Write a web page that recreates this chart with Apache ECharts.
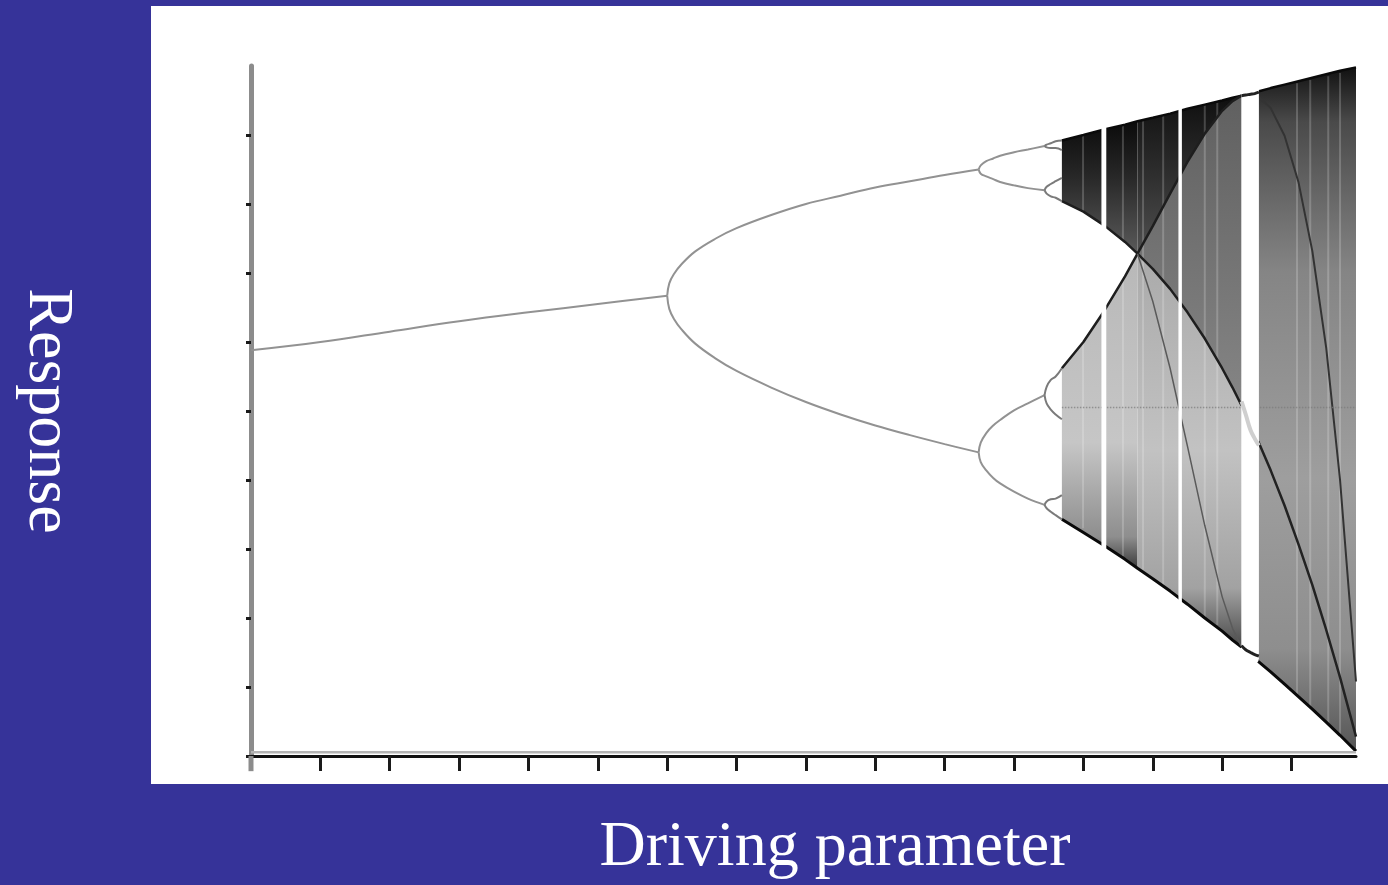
<!DOCTYPE html>
<html>
<head>
<meta charset="utf-8">
<title>Driving parameter / Response</title>
<script src="https://cdn.jsdelivr.net/npm/echarts@6/dist/echarts.min.js"></script>
<style>
html, body { margin: 0; padding: 0; background: #363399; }
#main { width: 1388px; height: 885px; }
</style>
</head>
<body>
<div id="main"></div>
<script>
// 刻度 (driving parameter r / response x)
var xTicks = [2.5, 2.6, 2.7, 2.8, 2.9, 3.0, 3.1, 3.2, 3.3, 3.4, 3.5, 3.6, 3.7, 3.8, 3.9];
var yTicks = [0, 0.1, 0.2, 0.3, 0.4, 0.5, 0.6, 0.7, 0.8, 0.9];

// period 1
var rFix = [2.4, 2.5, 2.6, 2.7, 2.8, 2.9, 3.0];
var fixResp = [0.588, 0.600, 0.615, 0.630, 0.643, 0.655, 0.667];

// period 2
var r2 = [3.0, 3.003, 3.01, 3.02, 3.04, 3.07, 3.1, 3.15, 3.2, 3.25, 3.3, 3.35, 3.4, 3.449];
var p2Up = [0.667, 0.685, 0.699, 0.712, 0.731, 0.750, 0.765, 0.784, 0.800, 0.812, 0.824, 0.833, 0.842, 0.850];
var p2Lo = [0.667, 0.648, 0.633, 0.619, 0.598, 0.576, 0.558, 0.534, 0.513, 0.495, 0.479, 0.465, 0.452, 0.440];

// period 4
var r4 = [3.449, 3.452, 3.46, 3.47, 3.48, 3.5, 3.52, 3.544];
var p4a = [0.850, 0.856, 0.862, 0.866, 0.870, 0.875, 0.879, 0.884];
var p4b = [0.850, 0.844, 0.840, 0.836, 0.832, 0.827, 0.823, 0.820];
var p4c = [0.440, 0.454, 0.468, 0.479, 0.487, 0.501, 0.511, 0.523];
var p4d = [0.440, 0.426, 0.414, 0.403, 0.395, 0.383, 0.373, 0.364];

// period 8
var r8 = [3.544, 3.547, 3.553, 3.56, 3.569];
var p8 = [
    [0.884, 0.886, 0.888, 0.891, 0.892],
    [0.884, 0.882, 0.881, 0.881, 0.878],
    [0.820, 0.825, 0.829, 0.833, 0.838],
    [0.820, 0.815, 0.811, 0.809, 0.804],
    [0.523, 0.535, 0.545, 0.550, 0.562],
    [0.523, 0.511, 0.502, 0.495, 0.488],
    [0.364, 0.369, 0.372, 0.373, 0.378],
    [0.364, 0.359, 0.354, 0.349, 0.343]
];

// chaos, left of the period-3 window
var rL = [3.569, 3.6, 3.63, 3.66, 3.678, 3.7, 3.725, 3.75, 3.775, 3.8, 3.815, 3.828];
var topL = [0.892, 0.900, 0.908, 0.915, 0.920, 0.925, 0.931, 0.938, 0.944, 0.950, 0.954, 0.957];
var botL = [0.343, 0.324, 0.305, 0.285, 0.272, 0.257, 0.239, 0.220, 0.200, 0.181, 0.168, 0.158];
var c3L = [0.804, 0.789, 0.769, 0.745, 0.728, 0.706, 0.677, 0.643, 0.605, 0.562, 0.534, 0.508];
var c4L = [0.562, 0.600, 0.645, 0.695, 0.728, 0.768, 0.815, 0.861, 0.902, 0.935, 0.949, 0.957];
var c5L = [null, null, null, null, 0.728, 0.659, 0.562, 0.449, 0.334, 0.231, 0.185, 0.158];

// chaos, right of the window
var rR = [3.852, 3.87, 3.89, 3.91, 3.93, 3.95, 3.97, 3.993];
var topR = [0.963, 0.968, 0.973, 0.978, 0.983, 0.988, 0.993, 0.998];
var botR = [0.137, 0.122, 0.104, 0.086, 0.068, 0.049, 0.030, 0.007];
var c3R = [0.456, 0.414, 0.363, 0.307, 0.248, 0.183, 0.114, 0.028];
var c4R = [0.956, 0.939, 0.899, 0.832, 0.732, 0.592, 0.400, 0.108];

// periodic windows (white bands)
var winR = [[3.626, 3.633], [3.737, 3.742], [3.828, 3.853]];
var winY = [[0.29, 0.925], [0.21, 0.95], [0.14, 0.975]];

// lighter streaks inside the chaotic band
var streakR = [3.5995, 3.657, 3.686, 3.715, 3.775, 3.793, 3.908, 3.927, 3.953, 3.970];
var streakLo = [0.33, 0.29, 0.27, 0.245, 0.20, 0.19, 0.09, 0.07, 0.045, 0.03];
var streakHi = [0.90, 0.913, 0.92, 0.928, 0.944, 0.948, 0.975, 0.98, 0.985, 0.99];

// period-3 orbit inside the big window
var rW3 = [3.828, 3.834, 3.841, 3.847, 3.853];
var w3Top = [0.957, 0.958, 0.959, 0.960, 0.962];
var w3Mid = [0.514, 0.495, 0.472, 0.460, 0.450];
var w3Bot = [0.160, 0.154, 0.150, 0.147, 0.145];

var midLineY = 0.505;


function zip(rs, ys) {
    var a = [];
    for (var i = 0; i < rs.length; i++) {
        if (ys[i] != null) a.push([rs[i], ys[i]]);
    }
    return a;
}

// 上边 + 下边(反向) 组成多边形
function band(rs, upper, lower, from, to) {
    var pts = [];
    for (var i = from; i <= to; i++) pts.push([rs[i], upper[i]]);
    for (var j = to; j >= from; j--) pts.push([rs[j], lower[j]]);
    return pts;
}

function grad(stops) {
    var s = [];
    for (var i = 0; i < stops.length; i++) s.push({offset: stops[i][0], color: stops[i][1]});
    return new echarts.graphic.LinearGradient(0, 0, 0, 1, s);
}

function zone(pts, fill, z) {
    return {
        type: 'custom',
        silent: true,
        z: z || 2,
        data: [pts[0]],
        renderItem: function (params, api) {
            var p = pts.map(function (d) { return api.coord(d); });
            return {type: 'polygon', shape: {points: p}, style: {fill: fill}};
        }
    };
}

function curve(pts, color, width, z, smooth) {
    return {
        type: 'line',
        data: pts,
        symbol: 'none',
        smooth: smooth === undefined ? 0.4 : smooth,
        silent: true,
        z: z || 3,
        lineStyle: {color: color, width: width}
    };
}

var series = [];

// 混沌区域
series.push(zone(band(rL, topL, c3L, 0, 4), grad([[0, '#0b0b0b'], [0.4, '#262626'], [1, '#5a5a5a']])));
series.push(zone(band(rL, c4L, botL, 0, 4), grad([[0, '#b8b8b8'], [0.6, '#c6c6c6'], [0.9, '#8e8e8e'], [1, '#3a3a3a']])));
series.push(zone(band(rL, topL, c4L, 4, 11), grad([[0, '#0f0f0f'], [0.5, '#2e2e2e'], [1, '#505050']])));
series.push(zone(band(rL, c4L, c3L, 4, 11), grad([[0, '#606060'], [1, '#858585']])));
series.push(zone(band(rL, c3L, botL, 4, 11), grad([[0, '#aaaaaa'], [0.5, '#c2c2c2'], [0.85, '#a2a2a2'], [1, '#4a4a4a']])));
series.push(zone(band(rR, topR, botR, 0, rR.length - 1), grad([[0, '#111'], [0.08, '#4a4a4a'], [0.3, '#858585'], [0.6, '#9e9e9e'], [0.85, '#8e8e8e'], [1, '#555']])));

// 浅色竖纹
for (var s = 0; s < streakR.length; s++) {
    series.push({
        type: 'line', symbol: 'none', silent: true, z: 2,
        data: [[streakR[s], streakLo[s]], [streakR[s], streakHi[s]]],
        lineStyle: {color: '#ffffff', width: 2, opacity: 0.2}
    });
}

// 焦散线 / envelopes
series.push(curve(zip(rL, topL), '#0a0a0a', 2.5, 3, false));
series.push(curve(zip(rL, botL), '#0a0a0a', 3, 3, false));
series.push(curve(zip(rL, c3L), '#1e1e1e', 2.5, 3, false));
series.push(curve(zip(rL, c4L), '#1e1e1e', 2.5, 3, false));
series.push(curve(zip(rL, c5L), '#5a5a5a', 1.5, 3, false));
series.push(curve(zip(rR, topR), '#0a0a0a', 2.5, 3, false));
series.push(curve(zip(rR, botR), '#0a0a0a', 3, 3, false));
series.push(curve(zip(rR, c3R), '#222', 2.5, 3, false));
series.push(curve(zip(rR, c4R), '#333', 2, 3, false));
series.push({
    type: 'line', symbol: 'none', silent: true, z: 3,
    data: [[rL[0], midLineY], [rR[rR.length - 1], midLineY]],
    lineStyle: {color: '#7a7a7a', width: 1.5, type: 'dotted', opacity: 0.7}
});

// 周期窗口
for (var w = 0; w < winR.length; w++) {
    series.push(zone([[winR[w][0], winY[w][1]], [winR[w][1], winY[w][1]], [winR[w][1], winY[w][0]], [winR[w][0], winY[w][0]]], '#fff', 4));
}
series.push(curve(zip(rW3, w3Top), '#222', 3, 5));
series.push(curve(zip(rW3, w3Mid), '#cfcfcf', 4, 5));
series.push(curve(zip(rW3, w3Bot), '#222', 3, 5));

// 倍周期分岔
var pdColor = '#929292';
series.push(curve(zip(rFix, fixResp), pdColor, 2));
series.push(curve(zip(r2, p2Up), pdColor, 2));
series.push(curve(zip(r2, p2Lo), pdColor, 2));
series.push(curve(zip(r4, p4a), pdColor, 2));
series.push(curve(zip(r4, p4b), pdColor, 2));
series.push(curve(zip(r4, p4c), pdColor, 2));
series.push(curve(zip(r4, p4d), pdColor, 2));
for (var k = 0; k < p8.length; k++) {
    series.push(curve(zip(r8, p8[k]), '#7a7a7a', 2));
}

// x轴上方的灰线
series.push({
    type: 'line', symbol: 'none', silent: true, z: 5,
    data: [[2.4, 0.0055], [3.993, 0.0055]],
    lineStyle: {color: '#b4b4b4', width: 2.5}
});
// y轴向下伸出一点
series.push({
    type: 'line', symbol: 'none', silent: true, z: 5, clip: false,
    data: [[2.4, 0], [2.4, -0.022]],
    lineStyle: {color: '#8c8c8c', width: 5}
});

var myChart = echarts.init(document.getElementById('main'));

var option = {
    backgroundColor: '#363399',
    animation: false,
    grid: {left: 251, right: 32, top: 66, bottom: 129},
    xAxis: {
        type: 'value',
        min: 2.4,
        max: 3.993,
        interval: 0.1,
        axisLine: {show: true, onZero: false, lineStyle: {color: '#111', width: 3}},
        axisTick: {show: true, customValues: xTicks, length: 15, lineStyle: {color: '#1a1a1a', width: 3}},
        axisLabel: {show: false},
        splitLine: {show: false}
    },
    yAxis: {
        type: 'value',
        min: 0,
        max: 1,
        interval: 0.1,
        axisLine: {show: true, onZero: false, lineStyle: {color: '#8c8c8c', width: 5}},
        axisTick: {show: true, customValues: yTicks, length: 5, lineStyle: {color: '#1a1a1a', width: 3}},
        axisLabel: {show: false},
        splitLine: {show: false}
    },
    graphic: [
        {
            type: 'rect', z: -10, silent: true,
            shape: {x: 151, y: 6, width: 1237, height: 778},
            style: {fill: '#ffffff'}
        },
        {
            type: 'text', x: 835, y: 848, silent: true,
            style: {
                text: 'Driving parameter', fill: '#ffffff',
                font: '64px "Liberation Serif", "Times New Roman", serif',
                textAlign: 'center', textVerticalAlign: 'middle'
            }
        },
        {
            type: 'text', x: 47, y: 411, rotation: -Math.PI / 2, silent: true,
            style: {
                text: 'Response', fill: '#ffffff',
                font: '64px "Liberation Serif", "Times New Roman", serif',
                textAlign: 'center', textVerticalAlign: 'middle'
            }
        }
    ],
    series: series
};

myChart.setOption(option);
</script>
</body>
</html>
